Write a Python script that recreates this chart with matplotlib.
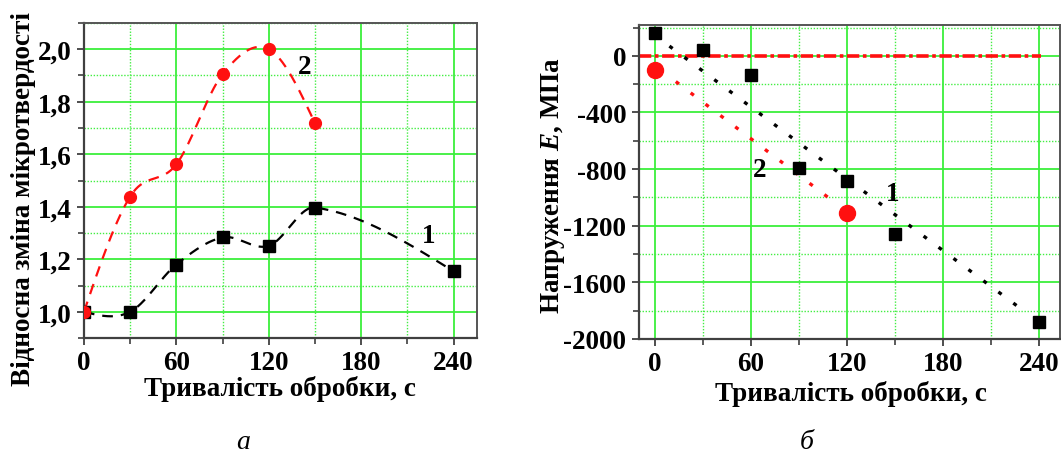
import numpy as np
import matplotlib
matplotlib.use("Agg")
import matplotlib.pyplot as plt
from matplotlib.ticker import MultipleLocator, FuncFormatter

FONT = "Liberation Serif"
plt.rcParams["font.family"] = [FONT, "DejaVu Serif"]
plt.rcParams["font.weight"] = "bold"
plt.rcParams["mathtext.fontset"] = "custom"
plt.rcParams["mathtext.rm"] = "Liberation Serif:bold"
plt.rcParams["mathtext.it"] = "Liberation Serif:italic:bold"
plt.rcParams["mathtext.bf"] = "Liberation Serif:bold"
plt.rcParams["mathtext.bfit"] = "Liberation Serif:italic:bold"

# ---------------- data ----------------
# panel a
t_a1 = [0, 30, 60, 90, 120, 150, 240]
h_a1 = [1.0, 1.0, 1.18, 1.283, 1.251, 1.397, 1.154]
t_a2 = [0, 30, 60, 90, 120, 150]
h_a2 = [1.0, 1.439, 1.562, 1.905, 2.0, 1.718]

# panel b
t_b1 = [0, 30, 60, 90, 120, 150, 240]
s_b1 = [160, 40, -135, -790, -883, -1258, -1880]
t_b2 = [0, 120]
s_b2 = [-100, -1110]
# fitted trend lines: (x start, x end, intercept, slope)
trend_b1 = (9, 233, 145, -8.45)
trend_b2 = (13, 111, -70, -8.6)
zero_line_x = (-10, 241)

xticks = [0, 60, 120, 180, 240]

W, H = 1061, 456


def smooth_curve(x, y, n=300):
    """Cubic Hermite curve with Catmull-Rom tangents (connecting line only)."""
    x = np.asarray(x, float)
    y = np.asarray(y, float)
    k = len(x)
    d = np.diff(y) / np.diff(x)
    m = np.zeros(k)
    for i in range(1, k - 1):
        m[i] = (y[i + 1] - y[i - 1]) / (x[i + 1] - x[i - 1])
    m[0] = (3 * d[0] - m[1]) / 2
    m[-1] = (3 * d[-1] - m[-2]) / 2
    xs = np.linspace(x[0], x[-1], n)
    idx = np.clip(np.searchsorted(x, xs) - 1, 0, k - 2)
    h = x[idx + 1] - x[idx]
    t = (xs - x[idx]) / h
    h00 = 2 * t ** 3 - 3 * t ** 2 + 1
    h10 = t ** 3 - 2 * t ** 2 + t
    h01 = -2 * t ** 3 + 3 * t ** 2
    h11 = t ** 3 - t ** 2
    ys = h00 * y[idx] + h10 * h * m[idx] + h01 * y[idx + 1] + h11 * h * m[idx + 1]
    return xs, ys


def px_rect(left, top, right, bottom):
    return [left / W, 1 - bottom / H, (right - left) / W, (bottom - top) / H]


fig = plt.figure(figsize=(W / 100, H / 100), dpi=100)
fig.patch.set_facecolor("white")

major_green = "#3cef3c"
minor_green = "#44ee44"
spine_col = "#404040"


def style_axes(ax):
    ax.grid(True, which="major", color=major_green, lw=1.3, ls="-", zorder=0)
    ax.grid(True, which="minor", color=minor_green, lw=1.0, ls=(0, (1, 1.2)), zorder=0)
    ax.set_axisbelow(True)
    for s in ["left", "bottom"]:
        ax.spines[s].set_color(spine_col)
        ax.spines[s].set_linewidth(1.6)
    for s in ["top", "right"]:
        ax.spines[s].set_color("#555555")
        ax.spines[s].set_linewidth(1.4)
    ax.tick_params(which="major", direction="out", length=5, width=1.3,
                   color=spine_col, labelsize=19.5, pad=4)
    ax.tick_params(which="minor", direction="out", length=4, width=1.2,
                   color=spine_col)
    ax.tick_params(top=False, right=False, which="both")
    for lab in ax.get_xticklabels() + ax.get_yticklabels():
        lab.set_fontweight("bold")


# ---------------- panel a ----------------
ax1 = fig.add_axes(px_rect(84, 24, 476.7, 339))
ax1.set_xlim(0, 255)
ax1.set_ylim(0.9, 2.1)
ax1.xaxis.set_major_locator(MultipleLocator(60))
ax1.xaxis.set_minor_locator(MultipleLocator(30))
ax1.yaxis.set_major_locator(MultipleLocator(0.2))
ax1.yaxis.set_minor_locator(MultipleLocator(0.1))
ax1.set_xticks(xticks)
ax1.yaxis.set_major_formatter(FuncFormatter(lambda v, p: f"{v:.1f}".replace(".", ",")))

xs, ys = smooth_curve(t_a1, h_a1)
ax1.plot(xs, ys, color="black", lw=1.6, ls=(0, (4.8, 3.6)), zorder=2)
ax1.plot(t_a1, h_a1, ls="none", marker="s", ms=8, color="black", zorder=3)
xs, ys = smooth_curve(t_a2, h_a2)
ax1.plot(xs, ys, color="#ff1010", lw=1.6, ls=(0, (4.8, 3.6)), zorder=2)
ax1.plot(t_a2, h_a2, ls="none", marker="o", ms=8.5, color="#ff1010", zorder=3,
         clip_on=True)
ax1.text(143, 1.933, "2", fontsize=19.5, fontweight="bold",
         ha="center", va="center")
ax1.text(223.8, 1.289, "1", fontsize=19.5, fontweight="bold",
         ha="center", va="center")
style_axes(ax1)

# ---------------- panel b ----------------
ax2 = fig.add_axes(px_rect(639, 25.7, 1060, 340))
ax2.set_xlim(-10, 253)
ax2.set_ylim(-2000, 220)
ax2.xaxis.set_major_locator(MultipleLocator(60))
ax2.xaxis.set_minor_locator(MultipleLocator(30))
ax2.yaxis.set_major_locator(MultipleLocator(400))
ax2.yaxis.set_minor_locator(MultipleLocator(200))
ax2.set_xticks(xticks)
ax2.yaxis.set_major_formatter(FuncFormatter(lambda v, p: f"{int(round(v))}"))

ax2.plot(list(zero_line_x), [0, 0], color="#ff1010", lw=2.6,
         ls=(0, (3.4, 1.0, 1.0, 1.0)), zorder=2)
for (x0, x1, b0, k), col in [(trend_b1, "black"), (trend_b2, "#ff1010")]:
    xx = np.array([x0, x1], float)
    ax2.plot(xx, b0 + k * xx, color=col, lw=2.4, ls=(0, (1.2, 4.4)), zorder=2)
ax2.plot(t_b1, s_b1, ls="none", marker="s", ms=8.5, color="black", zorder=3)
ax2.plot(t_b2, s_b2, ls="none", marker="o", ms=11.5, color="#ff1010", zorder=3)
ax2.text(65.4, -806, "2", fontsize=19.5, fontweight="bold",
         ha="center", va="center")
ax2.text(148.3, -974, "1", fontsize=19.5, fontweight="bold",
         ha="center", va="center")
style_axes(ax2)

# ---------------- labels ----------------
def ftext(x, y, s, **kw):
    fig.text(x / W, 1 - y / H, s, **kw)

ftext(280, 389, "Тривалість обробки, с", fontsize=19.5, fontweight="bold",
      ha="center", va="center")
ftext(851, 394, "Тривалість обробки, с", fontsize=19.5, fontweight="bold",
      ha="center", va="center")
ftext(24, 199, "Відносна зміна мікротвердості", fontsize=19.5, fontweight="bold",
      ha="center", va="center", rotation=90)
ftext(553, 186, "Напруження $\\mathit{E}$, МПа", fontsize=19.5, fontweight="bold",
      ha="center", va="center", rotation=90)
ftext(243, 443, "а", fontsize=20, style="italic", fontweight="normal",
      ha="center", va="center")
ftext(807, 443, "б", fontsize=20, style="italic", fontweight="normal",
      ha="center", va="center")

fig.savefig("out.png", dpi=100, facecolor="white")
